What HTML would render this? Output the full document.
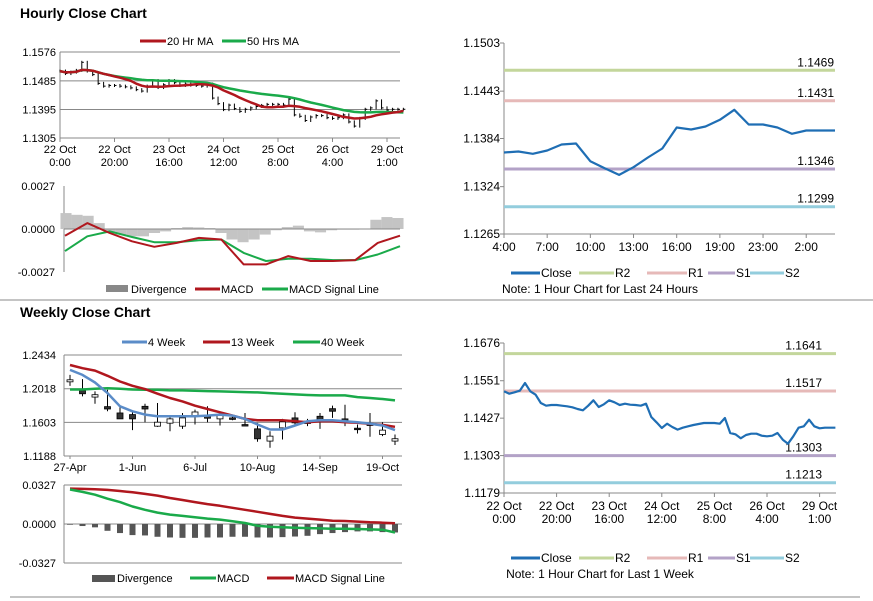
<!DOCTYPE html>
<html><head><meta charset="utf-8"><style>
body{margin:0;background:#fff;}
svg{display:block;font-family:"Liberation Sans",Arial,sans-serif;}
text{font-size:11px;fill:#000;}
</style></head><body>
<svg id="s" width="873" height="601" xmlns="http://www.w3.org/2000/svg">
<text x="20" y="18" style="font-size:14px;font-weight:bold">Hourly Close Chart</text>
<text x="20" y="317" style="font-size:14px;font-weight:bold">Weekly Close Chart</text>
<line x1="0" y1="300" x2="873" y2="300" stroke="#888"/>
<line x1="10" y1="597" x2="860" y2="597" stroke="#888"/>
<g id="g"></g>
</svg>
<script>
// ---- data ----
const weekClose=[1.15159,1.15081,1.15126,1.15181,1.15435,1.15159,1.15048,1.14772,1.14684,1.14706,1.14706,1.14684,1.14662,1.14629,1.14573,1.14529,1.14684,1.1486,1.1464,1.14728,1.1486,1.14794,1.14706,1.1475,1.14717,1.14706,1.14684,1.1475,1.14308,1.14132,1.13944,1.14087,1.13977,1.13889,1.13955,1.13999,1.14043,1.14076,1.1411,1.1411,1.1411,1.14087,1.14275,1.13778,1.13734,1.13601,1.13712,1.13756,1.13756,1.1369,1.13668,1.1369,1.13778,1.13557,1.13425,1.13668,1.13955,1.13999,1.1422,1.13999,1.13933,1.13955,1.13955,1.13955];
const hourTicks=["22 Oct|0:00","22 Oct|20:00","23 Oct|16:00","24 Oct|12:00","25 Oct|8:00","26 Oct|4:00","29 Oct|1:00"];
const hourMacd=[-0.00042,0.00037,-0.00025,-0.00077,-0.00112,-0.00087,-0.00056,-0.00066,-0.00222,-0.00222,-0.0017,-0.00201,-0.00201,-0.00195,-0.00087,-0.00042];
const hourSignal=[-0.00139,-0.00046,-0.00015,-0.0005,-0.00083,-0.00083,-0.00071,-0.00066,-0.0015,-0.00201,-0.00187,-0.00187,-0.00195,-0.00195,-0.0016,-0.00108];
const hourDiv=[0.001,0.00089,0.00083,0.00037,-0.00021,-0.00035,-0.00046,-0.00046,-0.00025,-0.00015,0.00006,0.00012,0.0001,0.00006,-0.00025,-0.00066,-0.00083,-0.00066,-0.00035,-0.00008,0.00012,0.00021,-0.00015,-0.00021,-0.00008,-0.00004,-0.00004,0,0.00058,0.00075,0.00069];
const dayClose=[1.13665,1.13678,1.13649,1.1369,1.13765,1.13778,1.13557,1.1347,1.13387,1.13482,1.13603,1.13715,1.13977,1.13952,1.1399,1.14073,1.14198,1.14015,1.14015,1.13977,1.13898,1.1394,1.1394,1.1394];
const dayTicks=["4:00","7:00","10:00","13:00","16:00","19:00","23:00","2:00"];
const dayYTicks=[1.1503,1.1443,1.1384,1.1324,1.1265];
const dayLevels=[1.1469,1.1431,1.1346,1.1299];
const weekYTicks=[1.1676,1.1551,1.1427,1.1303,1.1179];
const weekLevels=[1.1641,1.1517,1.1303,1.1213];
const wkOpen=[1.2103,1.1997,1.1915,1.1797,1.1719,1.1699,1.1801,1.1556,1.1593,1.1556,1.1686,1.1678,1.1646,1.1658,1.1576,1.1523,1.1372,1.1535,1.1658,1.1617,1.1678,1.1772,1.1646,1.1531,1.1584,1.1454,1.1372];
const wkClose=[1.2128,1.1956,1.1944,1.1768,1.1646,1.1646,1.1768,1.1605,1.1646,1.1658,1.1731,1.1654,1.1699,1.1646,1.1564,1.1400,1.1433,1.1609,1.1597,1.1589,1.1617,1.1740,1.1630,1.1515,1.1564,1.1507,1.1401];
const wkHigh=[1.2189,1.2136,1.1985,1.2005,1.1809,1.1727,1.1833,1.1842,1.1678,1.1719,1.1760,1.1801,1.1719,1.1699,1.1719,1.1597,1.1494,1.1646,1.1727,1.1646,1.1719,1.1809,1.1821,1.1576,1.1719,1.1605,1.1454];
const wkLow=[1.2053,1.1923,1.1833,1.1740,1.1646,1.1507,1.1605,1.1548,1.1494,1.1523,1.1576,1.1605,1.1564,1.1629,1.1556,1.1364,1.1290,1.1392,1.1576,1.1556,1.1523,1.1658,1.1556,1.1466,1.1425,1.1433,1.1323];
const wk4=[1.2250,1.2189,1.2095,1.1964,1.1801,1.1740,1.1699,1.1678,1.1678,1.1678,1.1678,1.1686,1.1699,1.1686,1.1646,1.1576,1.1515,1.1515,1.1564,1.1617,1.1629,1.1629,1.1617,1.1605,1.1588,1.1564,1.1507];
const wk13=[1.2311,1.2271,1.2242,1.2177,1.2107,1.2054,1.2013,1.1956,1.1903,1.1862,1.1809,1.1768,1.1727,1.1686,1.1646,1.1629,1.1629,1.1629,1.1617,1.1605,1.1617,1.1617,1.1605,1.1597,1.1584,1.1572,1.1548];
const wk40=[1.2009,1.2009,1.2017,1.2025,1.2017,1.2009,1.2005,1.2005,1.1997,1.1997,1.1993,1.1989,1.1985,1.1980,1.1976,1.1972,1.1964,1.1956,1.1948,1.1940,1.1936,1.1936,1.1936,1.1915,1.1903,1.1891,1.1874];
const wkTicks=["27-Apr","1-Jun","6-Jul","10-Aug","14-Sep","19-Oct"];
const wkMacd=[0.0289,0.0269,0.0246,0.0212,0.0184,0.0147,0.0119,0.0096,0.0079,0.0068,0.0057,0.0045,0.0037,0.0023,0.0008,-0.0014,-0.0023,-0.0028,-0.0031,-0.0034,-0.0037,-0.0040,-0.0040,-0.0042,-0.0045,-0.0048,-0.0071];
const wkSignal=[0.0297,0.0294,0.0292,0.0286,0.0277,0.0266,0.0252,0.0238,0.0218,0.0201,0.0184,0.0167,0.0153,0.0136,0.0119,0.0102,0.0085,0.0068,0.0054,0.0045,0.0037,0.0028,0.0025,0.0020,0.0014,0.0011,0.0006];
const wkDiv=[-0.0006,-0.0017,-0.0028,-0.0057,-0.0076,-0.0093,-0.0096,-0.0107,-0.0113,-0.0116,-0.0116,-0.0113,-0.0113,-0.0107,-0.0107,-0.0113,-0.0113,-0.0110,-0.0105,-0.0099,-0.0085,-0.0076,-0.0068,-0.0062,-0.0062,-0.0068,-0.0071];

// ---- helpers ----
const NS="http://www.w3.org/2000/svg";
const G=document.getElementById('g');
function el(tag,attrs,parent){const e=document.createElementNS(NS,tag);for(const k in attrs)e.setAttribute(k,attrs[k]);(parent||G).appendChild(e);return e;}
function lin(d0,d1,r0,r1){return v=>r0+(v-d0)*(r1-r0)/(d1-d0);}
function path(xs,ys,color,w,name){
  let d='';for(let i=0;i<xs.length;i++)d+=(i?'L':'M')+xs[i].toFixed(1)+' '+ys[i].toFixed(1);
  const p=el('path',{d:d,fill:'none',stroke:color,'stroke-width':w,'stroke-linejoin':'round'});
  
  
  return p;
}
function txt(x,y,s,anchor,name,size){
  const t=el('text',{x:x,y:y,'text-anchor':anchor||'start'});
  if(size)t.style.fontSize=size+'px';
  t.textContent=s;
  
  
  return t;
}
function hline(x1,x2,y,color,w,name){
  const l=el('line',{x1:x1,x2:x2,y1:y,y2:y,stroke:color,'stroke-width':w});
  
  
  return l;
}
function vline(x,y1,y2,color,w,name){
  const l=el('line',{x1:x,x2:x,y1:y1,y2:y2,stroke:color,'stroke-width':w});
  
  
  return l;
}
function legendLine(x1,x2,y,color,label,name,w){
  hline(x1,x2,y,color,w||3,name+'-swatch');
  txt(x2+1,y+4,label,'start',name+'-label');
}
function fmt(v,n){return v.toFixed(n);}
function ma(arr,n){return arr.map((v,i)=>{let s=0,c=0;for(let j=Math.max(0,i-n+1);j<=i;j++){s+=arr[j];c++;}return s/c;});}

// ===== Top-left hourly price =====
(function(){
  const x0=60,x1=400,yTop=52,yBot=138;
  const yticks=[1.1576,1.1485,1.1395,1.1305];
  const y=lin(1.1305,1.1576,yBot,yTop);
  const x=k=>x0+k*5.45;
  yticks.forEach((v,i)=>{hline(x0,x1,y(v),'#888',1,'hourly-gridline');txt(x0-4,y(v)+4,fmt(v,4),'end','hourly-y-tick');});
  vline(x0,yTop,yBot,'#888',1,'hourly-y-axis');
  hourTicks.forEach((s,i)=>{const xx=x(i*10);const p=s.split('|');vline(xx,yBot,yBot+4,'#888',1,'hourly-x-tickmark');txt(xx,yBot+15,p[0],'middle','hourly-x-tick');txt(xx,yBot+28,p[1],'middle','hourly-x-tick');});
  weekClose.forEach((v,k)=>{const prev=k?weekClose[k-1]:v;const xx=x(k);
    vline(xx,Math.min(y(prev),y(v))-1.5,Math.max(y(prev),y(v))+1.5,'#000',1,'hourly-price-bar');
    hline(xx,xx+2,y(v),'#000',1,'hourly-close-tick');});
  const m20=ma(weekClose,10),m50=ma(weekClose,25);
  path(weekClose.map((v,k)=>x(k)),m50.map(y),'#1aaa4a',2.5,'ma50-line');
  path(weekClose.map((v,k)=>x(k)),m20.map(y),'#b0171e',2.5,'ma20-line');
  legendLine(140,166,41,'#b0171e','20 Hr MA','legend-ma20');
  legendLine(222,246,41,'#1aaa4a','50 Hrs MA','legend-ma50');
})();

// ===== Top-left hourly MACD =====
(function(){
  const x0=64,x1=400,yTop=186,yBot=272;
  const y=lin(-0.0027,0.0027,yBot,yTop);
  [0.0027,0.0,-0.0027].forEach(v=>txt(55,y(v)+4,fmt(v,4),'end','hourly-macd-y-tick'));
  vline(x0,yTop,yBot,'#888',1,'hourly-macd-y-axis');
  const step=(x1-x0-4)/(hourDiv.length-1);
  const bx=i=>x0+2+i*step;
  hourDiv.forEach((v,i)=>{const r=el('rect',{x:bx(i)-step/2,y:Math.min(y(v),y(0)),width:step,height:Math.abs(y(v)-y(0)),fill:'#c4c4c4'});
    });
  hline(x0,x1,y(0),'#888',1,'hourly-macd-zero');
  const lx=i=>x0+1+i*(x1-x0-1)/(hourMacd.length-1);
  path(hourSignal.map((v,i)=>lx(i)),hourSignal.map(y),'#1aaa4a',2,'hourly-signal-line');
  path(hourMacd.map((v,i)=>lx(i)),hourMacd.map(y),'#b0171e',2,'hourly-macd-line');
  const r=el('rect',{x:106,y:285,width:22,height:7,fill:'#888'});
  txt(131,293,'Divergence','start','legend-divergence-label');
  legendLine(195,220,289,'#b0171e','MACD','legend-macd');
  legendLine(262,288,289,'#1aaa4a','MACD Signal Line','legend-signal');
})();

// ===== Right pivot charts =====
function pivot(data,levels,yTicks,ticks,yTop,yBot,x0,x1,xStep,tickEvery,legendY,note,prefix,labelRight){
  const ymin=yTicks[yTicks.length-1],ymax=yTicks[0];
  const y=lin(ymin,ymax,yBot,yTop);
  const colors=['#c3d69b','#e6b9b8','#b3a2c7','#93cddd'];
  const names=['r2','r1','s1','s2'];
  yTicks.forEach(v=>{txt(x0-4,y(v)+4,fmt(v,4),'end',prefix+'-y-tick',12);
    hline(x0-4,x0,y(v),'#888',1,prefix+'-y-tickmark');});
  vline(x0,yTop,yBot,'#888',1,prefix+'-y-axis');
  hline(x0,x1,yBot,'#888',1,prefix+'-x-axis');
  ticks.forEach((s,i)=>{const xx=x0+i*tickEvery*xStep;vline(xx,yBot,yBot+4,'#888',1,prefix+'-x-tickmark');
    const p=s.split('|');txt(xx,yBot+17,p[0],'middle',prefix+'-x-tick',12);if(p[1])txt(xx,yBot+30,p[1],'middle',prefix+'-x-tick',12);});
  levels.forEach((v,i)=>{hline(x0,x1,y(v),colors[i],3,prefix+'-'+names[i]+'-line');txt(labelRight,y(v)-4,fmt(v,4),'end',prefix+'-'+names[i]+'-label',12);});
  path(data.map((v,k)=>x0+k*xStep),data.map(y),'#1f6eb4',2.2,prefix+'-close-line');
  const lx=[[511,540,'#1f6eb4','Close'],[579,614,colors[0],'R2'],[647,687,colors[1],'R1'],[708,735,colors[2],'S1'],[750,784,colors[3],'S2']];
  lx.forEach((a,i)=>{hline(a[0],a[1],legendY,a[2],3,prefix+'-legend-swatch');txt(a[1]+1,legendY+4,a[3],'start',prefix+'-legend-label',12);});
  txt(600,legendY+20,note,'middle',prefix+'-note',12);
}
pivot(dayClose,dayLevels,dayYTicks,dayTicks,43,234,504,835,(835-504)/23,3,273,'Note: 1 Hour Chart for Last 24 Hours','day-pivot',834);
pivot(weekClose,weekLevels,weekYTicks,["22 Oct|0:00","22 Oct|20:00","23 Oct|16:00","24 Oct|12:00","25 Oct|8:00","26 Oct|4:00","29 Oct|1:00"],343,493,504,836,5.26,10,558,'Note: 1 Hour Chart for Last 1 Week','week-pivot',822);

// ===== Bottom-left weekly candles =====
(function(){
  const x0=64,x1=402,yTop=355,yBot=456;
  const y=lin(1.1188,1.2434,yBot,yTop);
  const x=i=>70+i*12.5;
  [1.2434,1.2018,1.1603,1.1188].forEach(v=>{hline(x0,x1,y(v),'#888',1,'weekly-gridline');txt(x0-8,y(v)+4,fmt(v,4),'end','weekly-y-tick');});
  vline(x0,yTop,yBot,'#888',1,'weekly-y-axis');
  wkTicks.forEach((s,i)=>{const xx=x(i*5);txt(xx,yBot+15,s,'middle','weekly-x-tick');vline(xx,yBot,yBot+3,'#888',1,'weekly-x-tickmark');});
  wkOpen.forEach((o,i)=>{const c=wkClose[i];const xx=x(i);
    vline(xx,y(wkHigh[i]),y(wkLow[i]),'#000',1,'weekly-candle-wick');
    const top=y(Math.max(o,c)),h=Math.max(1.5,Math.abs(y(o)-y(c)));
    const r=el('rect',{x:xx-3,y:top,width:6,height:h,fill:c>=o?'#fff':'#333',stroke:'#000','stroke-width':0.8});
    });
  path(wk40.map((v,i)=>x(i)),wk40.map(y),'#1aaa4a',2.5,'wk40-line');
  path(wk13.map((v,i)=>x(i)),wk13.map(y),'#b0171e',2.5,'wk13-line');
  path(wk4.map((v,i)=>x(i)),wk4.map(y),'#5b8cc8',2.5,'wk4-line');
  legendLine(122,147,342,'#5b8cc8','4 Week','legend-wk4');
  legendLine(203,230,342,'#b0171e','13 Week','legend-wk13');
  legendLine(293,320,342,'#1aaa4a','40 Week','legend-wk40');
})();

// ===== Bottom-left weekly MACD =====
(function(){
  const x0=64,x1=402,yTop=485,yBot=563;
  const y=lin(-0.0327,0.0327,yBot,yTop);
  const x=i=>70+i*12.5;
  [0.0327,0,-0.0327].forEach(v=>{hline(x0,x1,y(v),'#888',1,'weekly-macd-gridline');txt(x0-8,y(v)+4,fmt(v,4),'end','weekly-macd-y-tick');});
  vline(x0,yTop,yBot,'#888',1,'weekly-macd-y-axis');
  wkDiv.forEach((v,i)=>{const r=el('rect',{x:x(i)-3,y:Math.min(y(v),y(0)),width:6,height:Math.abs(y(v)-y(0)),fill:'#555'});
    });
  path(wkSignal.map((v,i)=>x(i)),wkSignal.map(y),'#b0171e',2.5,'weekly-signal-line');
  path(wkMacd.map((v,i)=>x(i)),wkMacd.map(y),'#1aaa4a',2.5,'weekly-macd-line');
  const r=el('rect',{x:92,y:575,width:23,height:7,fill:'#555'});
  txt(117,582,'Divergence','start','weekly-legend-divergence-label');
  legendLine(190,216,578,'#1aaa4a','MACD','weekly-legend-macd');
  legendLine(267,294,578,'#b0171e','MACD Signal Line','weekly-legend-signal');
})();
</script>
</body></html>
